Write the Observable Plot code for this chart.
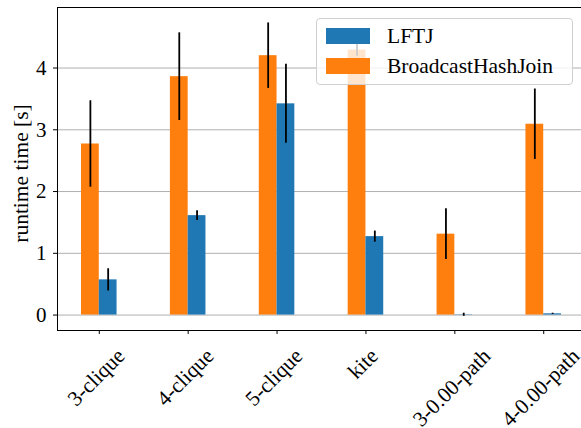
<!DOCTYPE html>
<html><head><meta charset="utf-8">
<script src="https://cdn.jsdelivr.net/npm/d3@7"></script>
<script src="https://cdn.jsdelivr.net/npm/@observablehq/plot@0.6"></script>
<style>
body{margin:0;background:#fff;}
#wrap{position:relative;width:581px;height:428px;overflow:hidden;}
#legend{position:absolute;left:316px;top:18px;width:255px;height:65px;background:rgba(255,255,255,0.8);border:1px solid #d0d0d0;border-radius:4px;font-family:"Liberation Serif",serif;font-size:21.5px;color:#000;box-sizing:content-box;}
.sw{position:absolute;left:9px;width:44px;height:16px;}
.lt{position:absolute;left:70px;line-height:20px;white-space:nowrap;}
</style>
</head><body>
<div id="wrap"></div>
<script>
const categories = ["3-clique","4-clique","5-clique","kite","3-0.00-path","4-0.00-path"];
const bhjValues = [2.77, 3.86, 4.20, 4.29, 1.31, 3.09];
const bhjErrors = [0.70, 0.71, 0.53, 0.10, 0.41, 0.57];
const lftjValues = [0.57, 1.61, 3.42, 1.27, 0.005, 0.02];
const lftjErrors = [0.18, 0.08, 0.64, 0.09, 0.025, 0.01];
const yTicks = [0, 1, 2, 3, 4];
const seriesNames = ["LFTJ", "BroadcastHashJoin"];
const colors = ["#1f77b4", "#ff7f0e"];

const FONT = '"Liberation Serif", serif';
const barW = 0.2;
const rows = [];
categories.forEach((c, i) => {
  rows.push({cat: c, i, series: "BroadcastHashJoin", x1: i - barW, x2: i, xc: i - barW/2, v: bhjValues[i], e: bhjErrors[i]});
  rows.push({cat: c, i, series: "LFTJ", x1: i, x2: i + barW, xc: i + barW/2, v: lftjValues[i], e: lftjErrors[i]});
});

const LFS = 21.5;
const ctx = document.createElement("canvas").getContext("2d");
ctx.font = LFS + 'px "Liberation Serif"';
const labelMarks = categories.map((c, i) => {
  const L = ctx.measureText(c).width;
  return Plot.text([i], {
    x: d => d, text: () => c, frameAnchor: "bottom", rotate: -45,
    textAnchor: "middle", lineAnchor: "middle", fontSize: LFS,
    dx: -3, dy: 17 + (L + 14) * 0.3536, fill: "#000"
  });
});

const chart = Plot.plot({
  width: 581, height: 428,
  marginLeft: 57, marginRight: 0, marginTop: 7, marginBottom: 98,
  style: {fontFamily: FONT, fontSize: "20px", background: "#fff", overflow: "visible"},
  x: {type: "linear", domain: [-0.47, 5.425]},
  y: {domain: [-0.25, 4.98]},
  color: {domain: seriesNames, range: colors},
  marks: [
    Plot.gridY(yTicks, {stroke: "#b0b0b0", strokeOpacity: 1, strokeWidth: 1}),
    Plot.rectY(rows, {x1: "x1", x2: "x2", y1: 0, y2: "v", fill: "series"}),
    Plot.ruleX(rows, {x: "xc", y1: d => d.v - d.e, y2: d => d.v + d.e, stroke: "#000", strokeWidth: 1.8}),
    Plot.axisY({ticks: yTicks, tickSize: 4, tickPadding: 7, fontSize: 21, tickFormat: d3.format("d"), label: null, stroke: "#000"}),
    Plot.axisX({ticks: d3.range(categories.length), tickSize: 4, tickFormat: () => "", label: null, stroke: "#000"}),
    Plot.frame({anchor: "left", stroke: "#000"}),
    Plot.frame({anchor: "top", stroke: "#000"}),
    Plot.frame({anchor: "bottom", stroke: "#000"}),
    Plot.text(["runtime time [s]"], {frameAnchor: "left", rotate: -90, dx: -36, dy: 4.5, fontSize: 21.5, lineAnchor: "middle", textAnchor: "middle", fill: "#000"}),
    ...labelMarks
  ]
});
const wrap = document.getElementById("wrap");
wrap.appendChild(chart);

const legend = document.createElement("div");
legend.id = "legend";
seriesNames.forEach((name, k) => {
  const sw = document.createElement("div");
  sw.className = "sw";
  sw.style.top = (9 + 30 * k) + "px";
  sw.style.background = colors[k];
  legend.appendChild(sw);
  const t = document.createElement("div");
  t.className = "lt";
  t.style.top = (7 + 30 * k) + "px";
  t.textContent = name;
  legend.appendChild(t);
});
wrap.appendChild(legend);
</script>
</body></html>
